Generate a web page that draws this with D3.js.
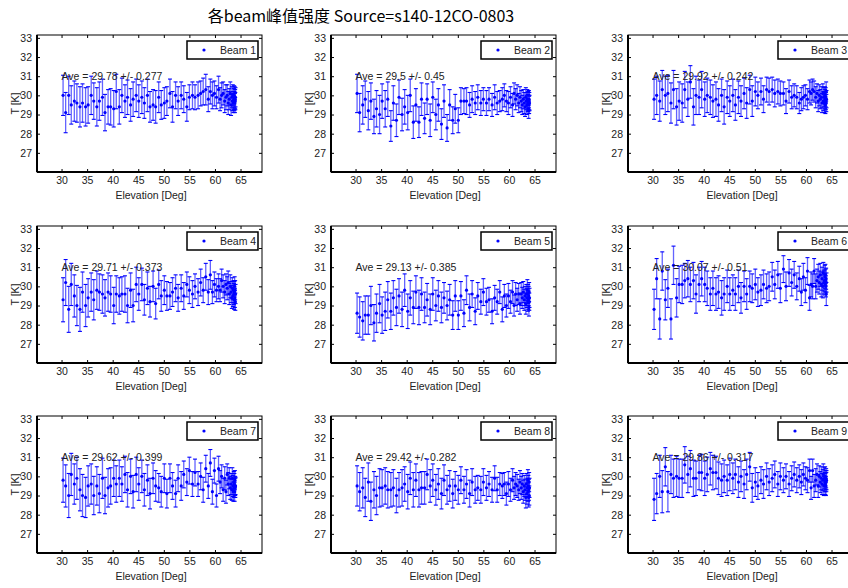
<!DOCTYPE html>
<html>
<head>
<meta charset="utf-8">
<script src="https://cdn.jsdelivr.net/npm/d3@7"></script>
<style>
  body { margin: 0; background: #fff; }
  text { font-family: "Liberation Sans Narrow", "Liberation Sans", Arial, sans-serif; }
</style>
</head>
<body>
<script>
// elevation samples, same for all beams
const elevation = [30.3, 30.8, 31.4, 31.9, 32.5, 33.0, 33.6, 34.1, 34.7, 35.2,
  35.8, 36.3, 36.9, 37.4, 38.0, 38.5, 39.1, 39.6, 40.2, 40.7,
  41.3, 41.8, 42.4, 42.9, 43.5, 44.0, 44.6, 45.1, 45.7, 46.2,
  46.8, 47.3, 47.9, 48.4, 49.0, 49.5, 50.1, 50.6, 51.2, 51.7,
  52.3, 52.8, 53.4, 53.9, 54.5, 55.0, 55.6, 56.1, 56.7, 57.2,
  57.7, 58.2, 58.7, 59.1, 59.5, 59.9, 60.3, 60.7, 61.0, 61.3,
  61.6, 61.9, 62.15, 62.4, 62.6, 62.8, 63.0, 63.15, 63.3, 63.4,
  63.5, 63.6, 63.7, 63.75, 63.8, 63.85, 63.9, 63.95, 63.98, 64.02];

const beamNames = ["Beam 1", "Beam 2", "Beam 3", "Beam 4", "Beam 5", "Beam 6", "Beam 7", "Beam 8", "Beam 9"];
const aves = [29.78, 29.5, 29.92, 29.71, 29.13, 30.07, 29.62, 29.42, 29.86];
const stds = [0.277, 0.45, 0.242, 0.373, 0.385, 0.51, 0.399, 0.282, 0.317];

const xTicks = [30, 35, 40, 45, 50, 55, 60, 65];
const yTicks = [27, 28, 29, 30, 31, 32, 33];

// peak temperature per beam
const t1 = [30.0, 29.1, 30.0, 29.5, 29.7, 29.6, 29.4, 29.6, 29.4, 29.5,
  30.0, 29.7, 29.4, 29.7, 29.9, 29.1, 29.4, 29.4, 29.3, 30.2,
  29.4, 30.0, 29.7, 29.9, 29.5, 29.8, 30.0, 29.7, 29.9, 29.6,
  30.0, 29.4, 29.5, 29.4, 29.9, 29.5, 29.6, 29.7, 30.1, 29.4,
  30.0, 29.7, 30.0, 29.8, 29.4, 29.9, 30.0, 29.9, 30.0, 30.1,
  30.2, 30.3, 29.8, 30.2, 30.0, 30.1, 29.9, 30.3, 29.8, 30.0,
  30.1, 29.7, 29.9, 30.0, 29.6, 29.8, 30.1, 29.5, 29.9, 29.7,
  30.0, 29.6, 29.8, 30.0, 29.7, 29.9, 29.6, 29.8, 29.7, 29.9];
const t2 = [30.1, 29.1, 29.5, 29.8, 29.2, 29.7, 28.9, 29.3, 29.0, 29.7,
  29.3, 29.8, 28.4, 29.6, 28.7, 29.9, 29.0, 29.4, 29.1, 30.0,
  28.6, 29.5, 28.6, 29.8, 28.8, 29.8, 28.7, 29.9, 29.0, 29.5,
  28.5, 29.7, 28.3, 29.5, 28.7, 29.3, 28.7, 29.7, 29.7, 29.7,
  29.5, 29.8, 29.6, 29.9, 29.6, 29.8, 29.6, 29.8, 29.5, 29.9,
  29.6, 29.7, 29.8, 30.0, 29.7, 29.6, 29.9, 29.5, 30.1, 29.8,
  30.0, 29.6, 29.9, 29.7, 29.5, 29.8, 29.6, 29.4, 29.9, 29.7,
  29.5, 29.8, 29.6, 29.7, 29.6, 29.3, 29.8, 29.5, 29.7, 29.6];
const t3 = [29.8, 30.0, 29.7, 30.3, 30.0, 30.1, 29.6, 30.3, 29.4, 29.7,
  29.6, 30.3, 29.8, 30.7, 29.4, 30.0, 29.9, 30.3, 29.8, 30.0,
  29.9, 29.7, 29.8, 29.5, 30.0, 29.4, 29.9, 29.7, 30.0, 29.5,
  29.9, 29.7, 30.1, 29.6, 30.3, 29.7, 30.2, 30.0, 30.2, 29.8,
  30.3, 30.2, 30.3, 30.1, 30.2, 30.1, 30.1, 29.7, 30.2, 29.9,
  30.0, 29.9, 29.6, 29.8, 29.9, 30.0, 29.8, 30.2, 30.1, 30.3,
  30.2, 29.9, 30.1, 29.7, 30.0, 29.8, 29.9, 29.6, 30.1, 29.7,
  29.9, 29.6, 30.0, 29.8, 29.5, 29.9, 29.7, 30.2, 29.6, 29.8];
const t4 = [29.3, 30.2, 28.8, 30.1, 29.5, 29.0, 28.8, 29.7, 29.0, 29.4,
  29.7, 29.3, 29.8, 29.7, 29.6, 29.4, 29.7, 29.6, 29.0, 29.6,
  29.5, 29.6, 29.6, 29.0, 29.8, 29.0, 30.1, 29.6, 30.1, 29.3,
  29.9, 29.2, 30.0, 29.1, 30.1, 29.5, 29.8, 29.5, 29.5, 29.7,
  29.9, 29.4, 29.9, 29.5, 30.1, 29.8, 29.6, 30.0, 29.7, 30.2,
  29.8, 30.5, 29.7, 30.6, 29.7, 30.1, 29.8, 30.0, 29.8, 30.3,
  30.0, 29.7, 30.1, 29.9, 30.2, 29.6, 30.0, 29.7, 29.4, 29.9,
  29.5, 29.8, 29.6, 29.3, 29.7, 30.0, 29.4, 29.8, 29.2, 29.6];
const t5 = [28.6, 28.4, 28.2, 28.5, 28.5, 29.0, 28.1, 28.6, 29.1, 28.5,
  28.7, 29.3, 28.7, 29.4, 28.9, 29.5, 28.8, 29.8, 28.7, 29.4,
  28.9, 29.7, 28.9, 29.6, 28.9, 29.3, 28.8, 29.6, 29.0, 29.5,
  28.9, 29.4, 29.0, 29.3, 28.5, 29.5, 28.5, 29.5, 28.6, 29.8,
  28.9, 29.6, 28.7, 29.5, 29.2, 29.7, 29.2, 29.3, 28.7, 29.4,
  29.2, 29.7, 28.8, 29.5, 29.0, 29.5, 29.2, 29.7, 29.0, 29.6,
  29.3, 29.6, 29.1, 29.6, 29.4, 29.7, 29.3, 29.5, 29.1, 29.6,
  29.4, 29.8, 29.2, 29.6, 29.3, 29.5, 28.9, 29.7, 29.2, 29.4];
const t6 = [28.8, 30.4, 28.3, 30.8, 29.3, 29.9, 28.3, 31.1, 29.4, 30.1,
  30.1, 30.3, 30.4, 30.1, 30.3, 29.6, 30.1, 30.4, 30.1, 29.9,
  29.6, 29.9, 29.6, 29.7, 29.4, 29.6, 30.0, 29.6, 29.8, 29.6,
  30.0, 29.4, 30.0, 29.6, 30.0, 29.9, 30.1, 29.7, 29.8, 30.1,
  29.9, 30.0, 30.5, 30.1, 30.6, 29.9, 30.9, 30.0, 30.7, 30.2,
  30.6, 30.0, 30.4, 29.7, 30.5, 29.8, 30.8, 29.4, 30.1, 30.0,
  30.8, 30.0, 30.3, 30.5, 30.2, 30.6, 30.1, 30.4, 30.0, 30.7,
  30.2, 30.3, 30.5, 30.1, 30.6, 30.3, 30.0, 30.4, 29.6, 30.2];
const t7 = [29.8, 29.5, 29.0, 30.1, 29.6, 29.9, 29.3, 29.0, 28.9, 29.5,
  29.6, 29.0, 29.5, 29.1, 29.9, 29.0, 29.4, 29.5, 29.9, 29.6,
  29.9, 29.6, 30.1, 29.3, 30.0, 29.2, 30.1, 29.6, 30.0, 29.3,
  29.8, 29.1, 29.9, 29.5, 29.4, 29.2, 29.9, 29.1, 29.9, 29.5,
  29.1, 29.9, 29.5, 30.1, 29.7, 30.3, 29.6, 30.2, 29.6, 30.0,
  29.3, 30.4, 29.5, 30.7, 29.2, 30.3, 29.0, 30.4, 29.7, 30.0,
  29.3, 29.9, 29.2, 30.1, 29.6, 29.9, 29.4, 29.6, 29.3, 29.9,
  29.5, 29.2, 29.7, 29.4, 29.6, 29.2, 29.8, 29.5, 29.4, 29.5];
const t8 = [29.5, 29.2, 29.4, 28.9, 29.7, 28.7, 29.3, 29.0, 29.4, 29.4,
  29.5, 29.3, 29.3, 29.4, 29.0, 29.3, 29.4, 29.6, 29.2, 29.9,
  29.3, 29.8, 29.3, 29.4, 29.4, 30.1, 29.5, 29.8, 29.3, 29.6,
  29.1, 29.8, 29.3, 29.5, 29.1, 29.5, 29.3, 29.8, 29.3, 29.6,
  29.1, 29.7, 29.3, 29.4, 29.3, 29.7, 29.4, 29.6, 29.3, 29.9,
  29.3, 29.6, 29.5, 29.6, 29.1, 29.6, 29.3, 29.8, 29.4, 29.6,
  29.5, 29.3, 29.7, 29.4, 29.6, 29.2, 29.5, 29.3, 28.9, 29.6,
  29.1, 29.4, 29.8, 29.2, 29.5, 28.9, 29.3, 29.7, 29.0, 29.4];
const t9 = [28.8, 29.1, 30.0, 29.2, 30.5, 29.2, 30.1, 29.9, 30.0, 29.9,
  29.9, 30.6, 30.1, 30.4, 29.9, 29.9, 30.2, 30.2, 29.9, 30.1,
  30.4, 30.2, 30.2, 29.9, 29.8, 30.0, 29.8, 30.1, 29.9, 30.1,
  29.7, 30.0, 29.6, 30.1, 30.5, 29.4, 29.7, 29.5, 29.8, 29.6,
  30.0, 29.7, 29.9, 30.1, 29.6, 30.0, 29.8, 30.0, 29.6, 29.9,
  30.1, 29.8, 30.0, 29.7, 30.1, 29.9, 29.8, 30.3, 29.4, 30.3,
  29.5, 29.8, 30.1, 29.5, 30.0, 29.7, 29.9, 29.6, 29.8, 30.1,
  29.5, 29.9, 29.7, 30.0, 29.6, 29.8, 29.5, 29.9, 29.7, 29.8];

// error bar half widths per beam
const e1 = [1.05, 1.05, 1.0, 1.0, 1.05, 1.0, 1.05, 1.0, 1.0, 0.95,
  1.0, 0.95, 1.0, 1.0, 0.95, 0.95, 0.9, 0.95, 0.95, 0.9,
  0.9, 0.9, 0.85, 0.9, 0.85, 0.9, 0.85, 0.85, 0.85, 0.8,
  0.85, 0.8, 0.8, 0.85, 0.8, 0.75, 0.8, 0.75, 0.75, 0.8,
  0.7, 0.75, 0.7, 0.7, 0.75, 0.65, 0.7, 0.65, 0.7, 0.65,
  0.7, 0.8, 0.65, 0.65, 0.7, 0.65, 0.6, 0.7, 0.6, 0.65,
  0.6, 0.6, 0.65, 0.55, 0.6, 0.55, 0.6, 0.55, 0.55, 0.5,
  0.55, 0.5, 0.55, 0.5, 0.5, 0.55, 0.5, 0.5, 0.45, 0.5];
const e2 = [1.0, 1.0, 1.0, 0.95, 1.0, 0.95, 0.9, 0.95, 1.0, 0.9,
  0.95, 0.9, 0.8, 0.9, 0.85, 0.9, 0.85, 0.9, 0.9, 0.85,
  0.85, 0.85, 0.8, 0.85, 0.8, 0.8, 0.85, 0.8, 0.8, 0.85,
  0.8, 0.85, 0.7, 0.8, 0.7, 0.75, 0.65, 0.7, 0.65, 0.7,
  0.65, 0.7, 0.6, 0.65, 0.65, 0.6, 0.65, 0.6, 0.6, 0.65,
  0.6, 0.55, 0.6, 0.6, 0.55, 0.6, 0.55, 0.6, 0.55, 0.55,
  0.55, 0.5, 0.55, 0.55, 0.5, 0.5, 0.55, 0.5, 0.5, 0.45,
  0.5, 0.5, 0.45, 0.5, 0.45, 0.5, 0.45, 0.45, 0.45, 0.4];
const e3 = [1.05, 1.0, 1.05, 1.0, 1.0, 0.95, 1.05, 1.0, 0.95, 1.0,
  1.0, 0.95, 0.9, 0.85, 0.95, 1.0, 0.9, 0.95, 0.9, 0.9,
  0.9, 0.85, 0.9, 0.85, 0.85, 0.9, 0.85, 0.8, 0.85, 0.8,
  0.85, 0.8, 0.8, 0.8, 0.75, 0.8, 0.75, 0.7, 0.7, 0.7,
  0.65, 0.7, 0.65, 0.7, 0.65, 0.65, 0.6, 0.65, 0.6, 0.6,
  0.6, 0.6, 0.55, 0.6, 0.6, 0.55, 0.55, 0.6, 0.6, 0.55,
  0.55, 0.55, 0.5, 0.55, 0.55, 0.5, 0.55, 0.5, 0.5, 0.5,
  0.5, 0.5, 0.45, 0.5, 0.45, 0.5, 0.45, 0.5, 0.45, 0.45];
const e4 = [1.15, 1.2, 1.2, 1.1, 1.1, 1.05, 1.15, 1.05, 1.1, 1.0,
  1.0, 1.05, 1.0, 0.95, 1.0, 0.95, 1.0, 0.95, 0.95, 0.95,
  0.95, 0.9, 0.95, 0.9, 0.9, 0.85, 0.9, 0.85, 0.85, 0.8,
  0.85, 0.8, 0.8, 0.8, 0.75, 0.8, 0.75, 0.75, 0.7, 0.75,
  0.7, 0.7, 0.7, 0.7, 0.65, 0.7, 0.7, 0.65, 0.7, 0.7,
  0.65, 0.7, 0.65, 0.75, 0.6, 0.65, 0.6, 0.65, 0.6, 0.6,
  0.6, 0.6, 0.55, 0.6, 0.6, 0.55, 0.6, 0.55, 0.55, 0.55,
  0.55, 0.5, 0.55, 0.5, 0.55, 0.5, 0.5, 0.5, 0.45, 0.5];
const e5 = [1.05, 1.05, 1.0, 1.0, 1.0, 1.0, 0.95, 1.0, 1.0, 0.95,
  1.0, 0.95, 0.95, 0.9, 0.95, 0.9, 0.9, 0.85, 0.9, 0.9,
  0.85, 0.85, 0.9, 0.85, 0.8, 0.85, 0.8, 0.85, 0.8, 0.8,
  0.8, 0.8, 0.75, 0.8, 0.75, 0.8, 0.75, 0.75, 0.7, 0.75,
  0.7, 0.7, 0.7, 0.7, 0.65, 0.7, 0.7, 0.65, 0.65, 0.65,
  0.65, 0.6, 0.65, 0.6, 0.6, 0.65, 0.6, 0.6, 0.55, 0.6,
  0.6, 0.55, 0.55, 0.6, 0.55, 0.55, 0.55, 0.5, 0.55, 0.5,
  0.5, 0.55, 0.5, 0.5, 0.5, 0.5, 0.45, 0.5, 0.45, 0.5];
const e6 = [1.05, 1.05, 1.05, 1.0, 1.05, 1.0, 1.05, 1.0, 1.0, 0.95,
  1.0, 0.9, 0.95, 0.9, 0.95, 1.0, 0.9, 0.9, 0.9, 0.9,
  0.85, 0.9, 0.85, 0.85, 0.9, 0.85, 0.85, 0.85, 0.8, 0.85,
  0.85, 0.8, 0.8, 0.8, 0.8, 0.75, 0.8, 0.75, 0.8, 0.75,
  0.75, 0.75, 0.75, 0.75, 0.7, 0.75, 0.7, 0.75, 0.7, 0.7,
  0.7, 0.7, 0.65, 0.7, 0.7, 0.65, 0.7, 0.65, 0.65, 0.65,
  0.65, 0.65, 0.6, 0.65, 0.6, 0.6, 0.65, 0.6, 0.6, 0.55,
  0.6, 0.55, 0.6, 0.55, 0.55, 0.6, 0.55, 0.55, 0.6, 0.5];
const e7 = [1.15, 1.1, 1.15, 1.1, 1.05, 1.1, 1.1, 1.1, 1.05, 1.05,
  1.05, 1.0, 1.0, 1.0, 1.05, 0.95, 1.0, 0.95, 0.95, 0.95,
  0.95, 0.9, 0.95, 0.9, 0.9, 0.85, 0.9, 0.85, 0.85, 0.85,
  0.8, 0.8, 0.8, 0.8, 0.75, 0.8, 0.75, 0.75, 0.75, 0.7,
  0.7, 0.7, 0.75, 0.7, 0.7, 0.7, 0.65, 0.7, 0.65, 0.7,
  0.65, 0.7, 0.65, 0.7, 0.65, 0.65, 0.6, 0.65, 0.6, 0.6,
  0.6, 0.6, 0.6, 0.55, 0.6, 0.55, 0.6, 0.55, 0.55, 0.55,
  0.55, 0.5, 0.55, 0.5, 0.55, 0.5, 0.5, 0.5, 0.5, 0.45];
const e8 = [1.05, 1.0, 1.05, 1.0, 1.0, 1.0, 0.95, 1.0, 1.0, 0.95,
  0.95, 0.95, 0.9, 0.95, 0.9, 0.9, 0.95, 0.9, 0.9, 0.85,
  0.9, 0.85, 0.9, 0.85, 0.85, 0.8, 0.85, 0.85, 0.8, 0.8,
  0.8, 0.8, 0.75, 0.8, 0.75, 0.75, 0.75, 0.7, 0.7, 0.75,
  0.7, 0.7, 0.7, 0.65, 0.7, 0.7, 0.65, 0.65, 0.65, 0.65,
  0.65, 0.6, 0.65, 0.6, 0.6, 0.65, 0.6, 0.6, 0.6, 0.6,
  0.6, 0.55, 0.6, 0.6, 0.55, 0.6, 0.55, 0.55, 0.55, 0.55,
  0.55, 0.5, 0.55, 0.5, 0.55, 0.5, 0.55, 0.5, 0.5, 0.5];
const e9 = [1.1, 1.05, 1.1, 1.1, 1.0, 1.05, 1.0, 1.0, 1.05, 1.0,
  1.0, 0.95, 0.95, 0.95, 0.95, 0.9, 0.9, 0.95, 0.9, 0.9,
  0.85, 0.9, 0.85, 0.85, 0.85, 0.85, 0.8, 0.85, 0.8, 0.8,
  0.8, 0.8, 0.75, 0.8, 0.75, 0.75, 0.75, 0.7, 0.7, 0.75,
  0.7, 0.7, 0.7, 0.7, 0.65, 0.7, 0.65, 0.65, 0.65, 0.65,
  0.65, 0.65, 0.6, 0.65, 0.6, 0.6, 0.65, 0.6, 0.6, 0.6,
  0.6, 0.6, 0.55, 0.6, 0.55, 0.55, 0.6, 0.55, 0.55, 0.55,
  0.5, 0.55, 0.5, 0.5, 0.55, 0.5, 0.5, 0.5, 0.5, 0.5];

const temps = [t1, t2, t3, t4, t5, t6, t7, t8, t9];
const errs = [e1, e2, e3, e4, e5, e6, e7, e8, e9];

const width = 848, height = 588;
const colLeft = [37, 331, 628];
const rowTop = [35, 226, 416];
const pw = 225, ph = 137;

const svg = d3.select("body").append("svg")
  .attr("width", width)
  .attr("height", height);

svg.append("text")
  .attr("x", 361).attr("y", 22)
  .attr("text-anchor", "middle")
  .style("font-size", "16px")
  .style("font-family", "'Liberation Sans Narrow', 'Noto Sans CJK SC', sans-serif")
  .text("各beam峰值强度 Source=s140-12CO-0803");

const x = d3.scaleLinear().domain([25.2, 69.2]).range([0, pw]);
const y = d3.scaleLinear().domain([26, 33.15]).range([ph, 0]);

beamNames.forEach(function(name, b) {
  const g = svg.append("g")
    .attr("transform", "translate(" + colLeft[b % 3] + "," + rowTop[Math.floor(b / 3)] + ")");

  const pts = elevation.map(function(el, i) { return { el: el, t: temps[b][i], e: errs[b][i] }; });

  // axes, MATLAB style ticks inside on all four sides
  const xa = g.append("g").attr("transform", "translate(0," + ph + ")")
    .call(d3.axisBottom(x).tickValues(xTicks).tickSizeInner(-3).tickSizeOuter(0).tickPadding(5));
  const ya = g.append("g")
    .call(d3.axisLeft(y).tickValues(yTicks).tickSizeInner(-3).tickSizeOuter(0).tickPadding(5));
  g.append("g").call(d3.axisTop(x).tickValues(xTicks).tickSizeInner(-3).tickSizeOuter(0).tickFormat(""));
  g.append("g").attr("transform", "translate(" + pw + ",0)")
    .call(d3.axisRight(y).tickValues(yTicks).tickSizeInner(-3).tickSizeOuter(0).tickFormat(""));
  g.selectAll(".domain").remove();
  g.selectAll(".tick line").attr("stroke", "#000");
  [xa, ya].forEach(function(a) {
    a.selectAll("text").style("font-size", "10.5px").attr("fill", "#222");
  });

  // error bars
  const bars = g.append("g");
  bars.selectAll("line.v").data(pts).enter().append("line")
    .attr("class", "v")
    .attr("x1", d => x(d.el)).attr("x2", d => x(d.el))
    .attr("y1", d => y(d.t - d.e)).attr("y2", d => y(d.t + d.e))
    .attr("stroke", "#4848ff").attr("stroke-width", 1.3).attr("opacity", 0.85);
  bars.selectAll("line.top").data(pts).enter().append("line")
    .attr("x1", d => x(d.el) - 2).attr("x2", d => x(d.el) + 2)
    .attr("y1", d => y(d.t + d.e)).attr("y2", d => y(d.t + d.e))
    .attr("stroke", "#0000ff").attr("stroke-width", 1.1);
  bars.selectAll("line.bot").data(pts).enter().append("line")
    .attr("x1", d => x(d.el) - 2).attr("x2", d => x(d.el) + 2)
    .attr("y1", d => y(d.t - d.e)).attr("y2", d => y(d.t - d.e))
    .attr("stroke", "#0000ff").attr("stroke-width", 1.1);
  bars.selectAll("circle").data(pts).enter().append("circle")
    .attr("cx", d => x(d.el)).attr("cy", d => y(d.t))
    .attr("r", 1.6).attr("fill", "#0000ff");

  // box
  g.append("rect").attr("width", pw).attr("height", ph)
    .attr("fill", "none").attr("stroke", "#000").attr("stroke-width", 1);
  g.append("line").attr("x1", 0).attr("x2", 0).attr("y1", 0).attr("y2", ph)
    .attr("stroke", "#000").attr("stroke-width", 2);
  g.append("line").attr("x1", 0).attr("x2", pw).attr("y1", ph).attr("y2", ph)
    .attr("stroke", "#000").attr("stroke-width", 2);

  // average note
  g.append("text")
    .attr("x", x(30)).attr("y", y(31) + 4)
    .style("font-size", "10.5px").attr("fill", "#222")
    .text("Ave = " + aves[b] + " +/- " + stds[b]);

  // legend
  const lg = g.append("g").attr("transform", "translate(" + (pw - 75) + ",6)");
  lg.append("rect").attr("width", 71).attr("height", 18)
    .attr("fill", "#fff").attr("stroke", "#000").attr("stroke-width", 1.5);
  lg.append("circle").attr("cx", 17).attr("cy", 9).attr("r", 1.6).attr("fill", "#0000ff");
  lg.append("text").attr("x", 33).attr("y", 13)
    .style("font-size", "10.5px").attr("fill", "#222").text(name);

  // axis labels
  g.append("text")
    .attr("transform", "translate(-18," + (ph / 2) + ") rotate(-90)")
    .attr("text-anchor", "middle")
    .style("font-size", "10.5px").attr("fill", "#222")
    .text("T [K]");
  g.append("text")
    .attr("x", x(47.5)).attr("y", ph + 27)
    .attr("text-anchor", "middle")
    .style("font-size", "10.5px").attr("fill", "#222")
    .text("Elevation [Deg]");
});
</script>
</body>
</html>
